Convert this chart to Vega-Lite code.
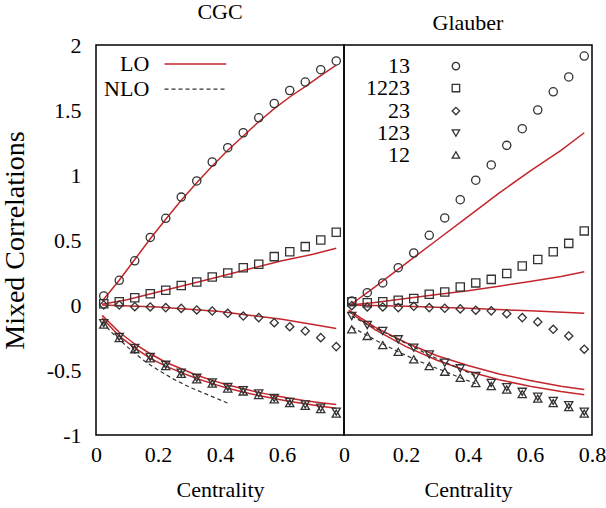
{
  "$schema": "https://vega.github.io/schema/vega-lite/v6.json",
  "background": "white",
  "padding": {"left": 0, "top": 0, "right": 5, "bottom": 5},
  "spacing": 0,
  "bounds": "flush",
  "config": {
    "view": {"stroke": "black", "strokeWidth": 1.5},
    "font": "Liberation Serif",
    "axis": {
      "grid": false, "domain": false, "ticks": false,
      "labelFont": "Liberation Serif", "labelFontSize": 22, "labelColor": "black",
      "titleFont": "Liberation Serif", "titleFontSize": 22, "titleFontWeight": "normal", "titleColor": "black",
      "labelFlush": false, "labelOverlap": false
    },
    "title": {"font": "Liberation Serif", "fontSize": 22, "fontWeight": "normal", "color": "black", "anchor": "middle", "frame": "group", "baseline": "alphabetic", "offset": 10}
  },
  "datasets": {
    "xt": [{"c": 0.2}, {"c": 0.4}, {"c": 0.6}],
    "yt": [{"v": -0.5}, {"v": 0}, {"v": 0.5}, {"v": 1}, {"v": 1.5}],
    "pts": [
      {"p":"CGC","s":"13","c":0.025,"v":0.07},{"p":"CGC","s":"13","c":0.075,"v":0.19},{"p":"CGC","s":"13","c":0.125,"v":0.34},{"p":"CGC","s":"13","c":0.175,"v":0.52},{"p":"CGC","s":"13","c":0.225,"v":0.667},{"p":"CGC","s":"13","c":0.275,"v":0.83},{"p":"CGC","s":"13","c":0.325,"v":0.954},{"p":"CGC","s":"13","c":0.375,"v":1.10},{"p":"CGC","s":"13","c":0.425,"v":1.21},{"p":"CGC","s":"13","c":0.475,"v":1.325},{"p":"CGC","s":"13","c":0.525,"v":1.44},{"p":"CGC","s":"13","c":0.575,"v":1.55},{"p":"CGC","s":"13","c":0.625,"v":1.65},{"p":"CGC","s":"13","c":0.675,"v":1.715},{"p":"CGC","s":"13","c":0.725,"v":1.81},{"p":"CGC","s":"13","c":0.775,"v":1.877},
      {"p":"CGC","s":"1223","c":0.025,"v":0.01},{"p":"CGC","s":"1223","c":0.075,"v":0.025},{"p":"CGC","s":"1223","c":0.125,"v":0.056},{"p":"CGC","s":"1223","c":0.175,"v":0.087},{"p":"CGC","s":"1223","c":0.225,"v":0.113},{"p":"CGC","s":"1223","c":0.275,"v":0.15},{"p":"CGC","s":"1223","c":0.325,"v":0.177},{"p":"CGC","s":"1223","c":0.375,"v":0.215},{"p":"CGC","s":"1223","c":0.425,"v":0.246},{"p":"CGC","s":"1223","c":0.475,"v":0.287},{"p":"CGC","s":"1223","c":0.525,"v":0.313},{"p":"CGC","s":"1223","c":0.575,"v":0.372},{"p":"CGC","s":"1223","c":0.625,"v":0.41},{"p":"CGC","s":"1223","c":0.675,"v":0.449},{"p":"CGC","s":"1223","c":0.725,"v":0.5},{"p":"CGC","s":"1223","c":0.775,"v":0.56},
      {"p":"CGC","s":"23","c":0.025,"v":0.0},{"p":"CGC","s":"23","c":0.075,"v":0.0},{"p":"CGC","s":"23","c":0.125,"v":-0.013},{"p":"CGC","s":"23","c":0.175,"v":-0.015},{"p":"CGC","s":"23","c":0.225,"v":-0.02},{"p":"CGC","s":"23","c":0.275,"v":-0.026},{"p":"CGC","s":"23","c":0.325,"v":-0.038},{"p":"CGC","s":"23","c":0.375,"v":-0.046},{"p":"CGC","s":"23","c":0.425,"v":-0.064},{"p":"CGC","s":"23","c":0.475,"v":-0.085},{"p":"CGC","s":"23","c":0.525,"v":-0.097},{"p":"CGC","s":"23","c":0.575,"v":-0.136},{"p":"CGC","s":"23","c":0.625,"v":-0.167},{"p":"CGC","s":"23","c":0.675,"v":-0.2},{"p":"CGC","s":"23","c":0.725,"v":-0.251},{"p":"CGC","s":"23","c":0.775,"v":-0.32},
      {"p":"CGC","s":"123","c":0.025,"v":-0.14},{"p":"CGC","s":"123","c":0.075,"v":-0.245},{"p":"CGC","s":"123","c":0.125,"v":-0.33},{"p":"CGC","s":"123","c":0.175,"v":-0.4},{"p":"CGC","s":"123","c":0.225,"v":-0.46},{"p":"CGC","s":"123","c":0.275,"v":-0.52},{"p":"CGC","s":"123","c":0.325,"v":-0.56},{"p":"CGC","s":"123","c":0.375,"v":-0.595},{"p":"CGC","s":"123","c":0.425,"v":-0.63},{"p":"CGC","s":"123","c":0.475,"v":-0.655},{"p":"CGC","s":"123","c":0.525,"v":-0.68},{"p":"CGC","s":"123","c":0.575,"v":-0.715},{"p":"CGC","s":"123","c":0.625,"v":-0.745},{"p":"CGC","s":"123","c":0.675,"v":-0.765},{"p":"CGC","s":"123","c":0.725,"v":-0.79},{"p":"CGC","s":"123","c":0.775,"v":-0.82},
      {"p":"CGC","s":"12","c":0.025,"v":-0.15},{"p":"CGC","s":"12","c":0.075,"v":-0.255},{"p":"CGC","s":"12","c":0.125,"v":-0.34},{"p":"CGC","s":"12","c":0.175,"v":-0.41},{"p":"CGC","s":"12","c":0.225,"v":-0.47},{"p":"CGC","s":"12","c":0.275,"v":-0.53},{"p":"CGC","s":"12","c":0.325,"v":-0.572},{"p":"CGC","s":"12","c":0.375,"v":-0.605},{"p":"CGC","s":"12","c":0.425,"v":-0.642},{"p":"CGC","s":"12","c":0.475,"v":-0.665},{"p":"CGC","s":"12","c":0.525,"v":-0.692},{"p":"CGC","s":"12","c":0.575,"v":-0.725},{"p":"CGC","s":"12","c":0.625,"v":-0.755},{"p":"CGC","s":"12","c":0.675,"v":-0.775},{"p":"CGC","s":"12","c":0.725,"v":-0.8},{"p":"CGC","s":"12","c":0.775,"v":-0.835},
      {"p":"Glauber","s":"13","c":0.025,"v":0.03},{"p":"Glauber","s":"13","c":0.075,"v":0.095},{"p":"Glauber","s":"13","c":0.125,"v":0.17},{"p":"Glauber","s":"13","c":0.175,"v":0.287},{"p":"Glauber","s":"13","c":0.225,"v":0.40},{"p":"Glauber","s":"13","c":0.275,"v":0.536},{"p":"Glauber","s":"13","c":0.325,"v":0.67},{"p":"Glauber","s":"13","c":0.375,"v":0.81},{"p":"Glauber","s":"13","c":0.425,"v":0.96},{"p":"Glauber","s":"13","c":0.475,"v":1.077},{"p":"Glauber","s":"13","c":0.525,"v":1.228},{"p":"Glauber","s":"13","c":0.575,"v":1.356},{"p":"Glauber","s":"13","c":0.625,"v":1.50},{"p":"Glauber","s":"13","c":0.675,"v":1.64},{"p":"Glauber","s":"13","c":0.725,"v":1.754},{"p":"Glauber","s":"13","c":0.775,"v":1.915},
      {"p":"Glauber","s":"1223","c":0.025,"v":0.025},{"p":"Glauber","s":"1223","c":0.075,"v":0.018},{"p":"Glauber","s":"1223","c":0.125,"v":0.025},{"p":"Glauber","s":"1223","c":0.175,"v":0.036},{"p":"Glauber","s":"1223","c":0.225,"v":0.05},{"p":"Glauber","s":"1223","c":0.275,"v":0.082},{"p":"Glauber","s":"1223","c":0.325,"v":0.10},{"p":"Glauber","s":"1223","c":0.375,"v":0.138},{"p":"Glauber","s":"1223","c":0.425,"v":0.17},{"p":"Glauber","s":"1223","c":0.475,"v":0.197},{"p":"Glauber","s":"1223","c":0.525,"v":0.243},{"p":"Glauber","s":"1223","c":0.575,"v":0.30},{"p":"Glauber","s":"1223","c":0.625,"v":0.35},{"p":"Glauber","s":"1223","c":0.675,"v":0.41},{"p":"Glauber","s":"1223","c":0.725,"v":0.474},{"p":"Glauber","s":"1223","c":0.775,"v":0.57},
      {"p":"Glauber","s":"23","c":0.025,"v":-0.005},{"p":"Glauber","s":"23","c":0.075,"v":-0.015},{"p":"Glauber","s":"23","c":0.125,"v":-0.015},{"p":"Glauber","s":"23","c":0.175,"v":-0.02},{"p":"Glauber","s":"23","c":0.225,"v":-0.01},{"p":"Glauber","s":"23","c":0.275,"v":-0.02},{"p":"Glauber","s":"23","c":0.325,"v":-0.025},{"p":"Glauber","s":"23","c":0.375,"v":-0.03},{"p":"Glauber","s":"23","c":0.425,"v":-0.04},{"p":"Glauber","s":"23","c":0.475,"v":-0.045},{"p":"Glauber","s":"23","c":0.525,"v":-0.067},{"p":"Glauber","s":"23","c":0.575,"v":-0.097},{"p":"Glauber","s":"23","c":0.625,"v":-0.13},{"p":"Glauber","s":"23","c":0.675,"v":-0.187},{"p":"Glauber","s":"23","c":0.725,"v":-0.238},{"p":"Glauber","s":"23","c":0.775,"v":-0.34},
      {"p":"Glauber","s":"123","c":0.025,"v":-0.085},{"p":"Glauber","s":"123","c":0.075,"v":-0.154},{"p":"Glauber","s":"123","c":0.125,"v":-0.2},{"p":"Glauber","s":"123","c":0.175,"v":-0.264},{"p":"Glauber","s":"123","c":0.225,"v":-0.328},{"p":"Glauber","s":"123","c":0.275,"v":-0.38},{"p":"Glauber","s":"123","c":0.325,"v":-0.444},{"p":"Glauber","s":"123","c":0.375,"v":-0.487},{"p":"Glauber","s":"123","c":0.425,"v":-0.546},{"p":"Glauber","s":"123","c":0.475,"v":-0.6},{"p":"Glauber","s":"123","c":0.525,"v":-0.632},{"p":"Glauber","s":"123","c":0.575,"v":-0.668},{"p":"Glauber","s":"123","c":0.625,"v":-0.706},{"p":"Glauber","s":"123","c":0.675,"v":-0.738},{"p":"Glauber","s":"123","c":0.725,"v":-0.77},{"p":"Glauber","s":"123","c":0.775,"v":-0.82},
      {"p":"Glauber","s":"12","c":0.025,"v":-0.187},{"p":"Glauber","s":"12","c":0.075,"v":-0.238},{"p":"Glauber","s":"12","c":0.125,"v":-0.308},{"p":"Glauber","s":"12","c":0.175,"v":-0.36},{"p":"Glauber","s":"12","c":0.225,"v":-0.418},{"p":"Glauber","s":"12","c":0.275,"v":-0.47},{"p":"Glauber","s":"12","c":0.325,"v":-0.513},{"p":"Glauber","s":"12","c":0.375,"v":-0.56},{"p":"Glauber","s":"12","c":0.425,"v":-0.6},{"p":"Glauber","s":"12","c":0.475,"v":-0.623},{"p":"Glauber","s":"12","c":0.525,"v":-0.65},{"p":"Glauber","s":"12","c":0.575,"v":-0.685},{"p":"Glauber","s":"12","c":0.625,"v":-0.72},{"p":"Glauber","s":"12","c":0.675,"v":-0.755},{"p":"Glauber","s":"12","c":0.725,"v":-0.785},{"p":"Glauber","s":"12","c":0.775,"v":-0.835}
    ],
    "lo": [
      {"p":"CGC","s":"13","c":0.02,"v":0.03},{"p":"CGC","s":"13","c":0.075,"v":0.19},{"p":"CGC","s":"13","c":0.125,"v":0.35},{"p":"CGC","s":"13","c":0.175,"v":0.51},{"p":"CGC","s":"13","c":0.225,"v":0.66},{"p":"CGC","s":"13","c":0.275,"v":0.805},{"p":"CGC","s":"13","c":0.325,"v":0.94},{"p":"CGC","s":"13","c":0.375,"v":1.07},{"p":"CGC","s":"13","c":0.425,"v":1.19},{"p":"CGC","s":"13","c":0.475,"v":1.3},{"p":"CGC","s":"13","c":0.525,"v":1.41},{"p":"CGC","s":"13","c":0.575,"v":1.51},{"p":"CGC","s":"13","c":0.625,"v":1.6},{"p":"CGC","s":"13","c":0.675,"v":1.68},{"p":"CGC","s":"13","c":0.725,"v":1.765},{"p":"CGC","s":"13","c":0.775,"v":1.845},
      {"p":"CGC","s":"1223","c":0.02,"v":0.005},{"p":"CGC","s":"1223","c":0.1,"v":0.04},{"p":"CGC","s":"1223","c":0.2,"v":0.1},{"p":"CGC","s":"1223","c":0.3,"v":0.16},{"p":"CGC","s":"1223","c":0.4,"v":0.22},{"p":"CGC","s":"1223","c":0.5,"v":0.28},{"p":"CGC","s":"1223","c":0.6,"v":0.34},{"p":"CGC","s":"1223","c":0.7,"v":0.39},{"p":"CGC","s":"1223","c":0.775,"v":0.436},
      {"p":"CGC","s":"23","c":0.02,"v":0.0},{"p":"CGC","s":"23","c":0.2,"v":-0.015},{"p":"CGC","s":"23","c":0.4,"v":-0.05},{"p":"CGC","s":"23","c":0.5,"v":-0.08},{"p":"CGC","s":"23","c":0.6,"v":-0.11},{"p":"CGC","s":"23","c":0.7,"v":-0.15},{"p":"CGC","s":"23","c":0.775,"v":-0.18},
      {"p":"CGC","s":"123","c":0.02,"v":-0.08},{"p":"CGC","s":"123","c":0.075,"v":-0.21},{"p":"CGC","s":"123","c":0.125,"v":-0.3},{"p":"CGC","s":"123","c":0.175,"v":-0.375},{"p":"CGC","s":"123","c":0.225,"v":-0.44},{"p":"CGC","s":"123","c":0.275,"v":-0.49},{"p":"CGC","s":"123","c":0.325,"v":-0.54},{"p":"CGC","s":"123","c":0.375,"v":-0.58},{"p":"CGC","s":"123","c":0.425,"v":-0.615},{"p":"CGC","s":"123","c":0.475,"v":-0.645},{"p":"CGC","s":"123","c":0.525,"v":-0.672},{"p":"CGC","s":"123","c":0.575,"v":-0.697},{"p":"CGC","s":"123","c":0.625,"v":-0.718},{"p":"CGC","s":"123","c":0.675,"v":-0.737},{"p":"CGC","s":"123","c":0.725,"v":-0.752},{"p":"CGC","s":"123","c":0.775,"v":-0.765},
      {"p":"CGC","s":"12","c":0.02,"v":-0.1},{"p":"CGC","s":"12","c":0.075,"v":-0.24},{"p":"CGC","s":"12","c":0.125,"v":-0.33},{"p":"CGC","s":"12","c":0.175,"v":-0.41},{"p":"CGC","s":"12","c":0.225,"v":-0.47},{"p":"CGC","s":"12","c":0.275,"v":-0.52},{"p":"CGC","s":"12","c":0.325,"v":-0.565},{"p":"CGC","s":"12","c":0.375,"v":-0.605},{"p":"CGC","s":"12","c":0.425,"v":-0.64},{"p":"CGC","s":"12","c":0.475,"v":-0.67},{"p":"CGC","s":"12","c":0.525,"v":-0.697},{"p":"CGC","s":"12","c":0.575,"v":-0.72},{"p":"CGC","s":"12","c":0.625,"v":-0.742},{"p":"CGC","s":"12","c":0.675,"v":-0.76},{"p":"CGC","s":"12","c":0.725,"v":-0.778},{"p":"CGC","s":"12","c":0.775,"v":-0.795},
      {"p":"Glauber","s":"13","c":0.02,"v":0.0},{"p":"Glauber","s":"13","c":0.1,"v":0.14},{"p":"Glauber","s":"13","c":0.2,"v":0.32},{"p":"Glauber","s":"13","c":0.3,"v":0.5},{"p":"Glauber","s":"13","c":0.4,"v":0.68},{"p":"Glauber","s":"13","c":0.5,"v":0.86},{"p":"Glauber","s":"13","c":0.6,"v":1.03},{"p":"Glauber","s":"13","c":0.7,"v":1.19},{"p":"Glauber","s":"13","c":0.775,"v":1.325},
      {"p":"Glauber","s":"1223","c":0.02,"v":0.0},{"p":"Glauber","s":"1223","c":0.1,"v":0.02},{"p":"Glauber","s":"1223","c":0.2,"v":0.05},{"p":"Glauber","s":"1223","c":0.3,"v":0.08},{"p":"Glauber","s":"1223","c":0.4,"v":0.11},{"p":"Glauber","s":"1223","c":0.5,"v":0.145},{"p":"Glauber","s":"1223","c":0.6,"v":0.18},{"p":"Glauber","s":"1223","c":0.7,"v":0.22},{"p":"Glauber","s":"1223","c":0.775,"v":0.255},
      {"p":"Glauber","s":"23","c":0.02,"v":0.0},{"p":"Glauber","s":"23","c":0.2,"v":-0.01},{"p":"Glauber","s":"23","c":0.4,"v":-0.025},{"p":"Glauber","s":"23","c":0.6,"v":-0.045},{"p":"Glauber","s":"23","c":0.775,"v":-0.064},
      {"p":"Glauber","s":"123","c":0.015,"v":-0.04},{"p":"Glauber","s":"123","c":0.1,"v":-0.17},{"p":"Glauber","s":"123","c":0.2,"v":-0.29},{"p":"Glauber","s":"123","c":0.3,"v":-0.39},{"p":"Glauber","s":"123","c":0.4,"v":-0.465},{"p":"Glauber","s":"123","c":0.5,"v":-0.53},{"p":"Glauber","s":"123","c":0.6,"v":-0.58},{"p":"Glauber","s":"123","c":0.7,"v":-0.625},{"p":"Glauber","s":"123","c":0.775,"v":-0.65},
      {"p":"Glauber","s":"12","c":0.015,"v":-0.05},{"p":"Glauber","s":"12","c":0.1,"v":-0.19},{"p":"Glauber","s":"12","c":0.2,"v":-0.32},{"p":"Glauber","s":"12","c":0.3,"v":-0.425},{"p":"Glauber","s":"12","c":0.4,"v":-0.51},{"p":"Glauber","s":"12","c":0.5,"v":-0.575},{"p":"Glauber","s":"12","c":0.6,"v":-0.625},{"p":"Glauber","s":"12","c":0.7,"v":-0.665},{"p":"Glauber","s":"12","c":0.775,"v":-0.69}
    ],
    "nlo": [
      {"p":"CGC","s":"a","c":0.02,"v":-0.13},{"p":"CGC","s":"a","c":0.05,"v":-0.21},{"p":"CGC","s":"a","c":0.1,"v":-0.32},{"p":"CGC","s":"a","c":0.15,"v":-0.42},{"p":"CGC","s":"a","c":0.2,"v":-0.5},{"p":"CGC","s":"a","c":0.25,"v":-0.57},{"p":"CGC","s":"a","c":0.3,"v":-0.63},{"p":"CGC","s":"a","c":0.35,"v":-0.68},{"p":"CGC","s":"a","c":0.4,"v":-0.73},{"p":"CGC","s":"a","c":0.425,"v":-0.755},
      {"p":"Glauber","s":"123","c":0.025,"v":-0.085},{"p":"Glauber","s":"123","c":0.075,"v":-0.15},{"p":"Glauber","s":"123","c":0.125,"v":-0.205},{"p":"Glauber","s":"123","c":0.175,"v":-0.265},{"p":"Glauber","s":"123","c":0.225,"v":-0.325},{"p":"Glauber","s":"123","c":0.275,"v":-0.385},{"p":"Glauber","s":"123","c":0.325,"v":-0.44},{"p":"Glauber","s":"123","c":0.375,"v":-0.49},{"p":"Glauber","s":"123","c":0.425,"v":-0.545},
      {"p":"Glauber","s":"12","c":0.025,"v":-0.17},{"p":"Glauber","s":"12","c":0.075,"v":-0.235},{"p":"Glauber","s":"12","c":0.125,"v":-0.3},{"p":"Glauber","s":"12","c":0.175,"v":-0.36},{"p":"Glauber","s":"12","c":0.225,"v":-0.415},{"p":"Glauber","s":"12","c":0.275,"v":-0.465},{"p":"Glauber","s":"12","c":0.325,"v":-0.51},{"p":"Glauber","s":"12","c":0.375,"v":-0.56},{"p":"Glauber","s":"12","c":0.425,"v":-0.605}
    ],
    "keytext": [
      {"p":"CGC","label":"LO","c":0.172,"v":1.854},
      {"p":"CGC","label":"NLO","c":0.172,"v":1.66},
      {"p":"Glauber","label":"13","c":0.213,"v":1.838},
      {"p":"Glauber","label":"1223","c":0.213,"v":1.669},
      {"p":"Glauber","label":"23","c":0.213,"v":1.492},
      {"p":"Glauber","label":"123","c":0.213,"v":1.323},
      {"p":"Glauber","label":"12","c":0.213,"v":1.154}
    ],
    "keysym": [
      {"s":"13","c":0.361,"v":1.838},
      {"s":"1223","c":0.361,"v":1.669},
      {"s":"23","c":0.361,"v":1.492},
      {"s":"123","c":0.361,"v":1.323},
      {"s":"12","c":0.361,"v":1.154}
    ],
    "keyline": [
      {"s":"LO","c":0.221,"v":1.854},{"s":"LO","c":0.42,"v":1.854},
      {"s":"NLO","c":0.221,"v":1.66},{"s":"NLO","c":0.42,"v":1.66}
    ]
  },
  "hconcat": [
    {
      "title": "CGC",
      "width": 248, "height": 390,
      "encoding": {
        "x": {"field": "c", "type": "quantitative", "scale": {"domain": [0, 0.8], "nice": false, "zero": false}, "axis": null},
        "y": {"field": "v", "type": "quantitative", "scale": {"domain": [-1, 2], "nice": false, "zero": false}, "axis": null}
      },
      "layer": [
        {
          "data": {"name": "pts"}, "transform": [{"filter": "datum.p === 'CGC'"}],
          "mark": {"type": "point", "opacity": 0},
          "encoding": {
            "x": {"field": "c", "type": "quantitative", "scale": {"domain": [0, 0.8], "nice": false, "zero": false},
              "axis": {"orient": "bottom", "values": [0, 0.2, 0.4, 0.6], "title": "Centrality", "labelPadding": 9, "titlePadding": 14, "labelExpr": "replace(format(datum.value, '~g'), '\u2212', '-')"}},
            "y": {"field": "v", "type": "quantitative", "scale": {"domain": [-1, 2], "nice": false, "zero": false},
              "axis": {"orient": "left", "values": [-1, -0.5, 0, 0.5, 1, 1.5, 2], "title": "Mixed Correlations", "titleFontSize": 28, "labelPadding": 15, "titlePadding": 17, "labelExpr": "replace(format(datum.value, '~g'), '\u2212', '-')"}}
          }
        },
        {"data": {"name": "xt"}, "mark": {"type": "tick", "orient": "vertical", "size": 8, "thickness": 1.5, "color": "black", "opacity": 1, "yOffset": -4}, "encoding": {"y": {"datum": -1}}},
        {"data": {"name": "xt"}, "mark": {"type": "tick", "orient": "vertical", "size": 8, "thickness": 1.5, "color": "black", "opacity": 1, "yOffset": 4}, "encoding": {"y": {"datum": 2}}},
        {"data": {"name": "yt"}, "mark": {"type": "tick", "orient": "horizontal", "size": 8, "thickness": 1.5, "color": "black", "opacity": 1, "xOffset": 4}, "encoding": {"x": {"datum": 0}}},
        {"data": {"name": "yt"}, "mark": {"type": "tick", "orient": "horizontal", "size": 8, "thickness": 1.5, "color": "black", "opacity": 1, "xOffset": -4}, "encoding": {"x": {"datum": 0.8}}},
        {
          "data": {"name": "lo"}, "transform": [{"filter": "datum.p === 'CGC'"}],
          "mark": {"type": "line", "color": "#c4262c", "strokeWidth": 1.5},
          "encoding": {"detail": {"field": "s"}}
        },
        {
          "data": {"name": "nlo"}, "transform": [{"filter": "datum.p === 'CGC'"}],
          "mark": {"type": "line", "color": "#333333", "strokeWidth": 1.2, "strokeDash": [4, 3]},
          "encoding": {"detail": {"field": "s"}}
        },
        {
          "data": {"name": "pts"}, "transform": [{"filter": "datum.p === 'CGC'"}],
          "mark": {"type": "point", "filled": false, "color": "#333333", "strokeWidth": 1.3, "size": 68, "opacity": 1},
          "encoding": {
            "shape": {"field": "s", "type": "nominal", "scale": {"domain": ["13", "1223", "23", "123", "12"], "range": ["circle", "square", "diamond", "triangle-down", "triangle-up"]}, "legend": null}
          }
        },
        {
          "data": {"name": "keytext"}, "transform": [{"filter": "datum.p === 'CGC'"}],
          "mark": {"type": "text", "align": "right", "baseline": "middle", "font": "Liberation Serif", "fontSize": 22, "color": "black"},
          "encoding": {"text": {"field": "label"}}
        },
        {
          "data": {"name": "keyline"}, "transform": [{"filter": "datum.s === 'LO'"}],
          "mark": {"type": "line", "color": "#c4262c", "strokeWidth": 1.5},
          "encoding": {}
        },
        {
          "data": {"name": "keyline"}, "transform": [{"filter": "datum.s === 'NLO'"}],
          "mark": {"type": "line", "color": "#333333", "strokeWidth": 1.2, "strokeDash": [4, 3]},
          "encoding": {}
        }
      ],
      "resolve": {"axis": {"x": "independent", "y": "independent"}}
    },
    {
      "title": "Glauber",
      "width": 248, "height": 390,
      "encoding": {
        "x": {"field": "c", "type": "quantitative", "scale": {"domain": [0, 0.8], "nice": false, "zero": false}, "axis": null},
        "y": {"field": "v", "type": "quantitative", "scale": {"domain": [-1, 2], "nice": false, "zero": false}, "axis": null}
      },
      "layer": [
        {
          "data": {"name": "pts"}, "transform": [{"filter": "datum.p === 'Glauber'"}],
          "mark": {"type": "point", "opacity": 0},
          "encoding": {
            "x": {"field": "c", "type": "quantitative", "scale": {"domain": [0, 0.8], "nice": false, "zero": false},
              "axis": {"orient": "bottom", "values": [0, 0.2, 0.4, 0.6, 0.8], "title": "Centrality", "labelPadding": 9, "titlePadding": 14, "labelExpr": "replace(format(datum.value, '~g'), '\u2212', '-')"}}
          }
        },
        {"data": {"name": "xt"}, "mark": {"type": "tick", "orient": "vertical", "size": 8, "thickness": 1.5, "color": "black", "opacity": 1, "yOffset": -4}, "encoding": {"y": {"datum": -1}}},
        {"data": {"name": "xt"}, "mark": {"type": "tick", "orient": "vertical", "size": 8, "thickness": 1.5, "color": "black", "opacity": 1, "yOffset": 4}, "encoding": {"y": {"datum": 2}}},
        {"data": {"name": "yt"}, "mark": {"type": "tick", "orient": "horizontal", "size": 8, "thickness": 1.5, "color": "black", "opacity": 1, "xOffset": 4}, "encoding": {"x": {"datum": 0}}},
        {"data": {"name": "yt"}, "mark": {"type": "tick", "orient": "horizontal", "size": 8, "thickness": 1.5, "color": "black", "opacity": 1, "xOffset": -4}, "encoding": {"x": {"datum": 0.8}}},
        {
          "data": {"name": "lo"}, "transform": [{"filter": "datum.p === 'Glauber'"}],
          "mark": {"type": "line", "color": "#c4262c", "strokeWidth": 1.5},
          "encoding": {"detail": {"field": "s"}}
        },
        {
          "data": {"name": "nlo"}, "transform": [{"filter": "datum.p === 'Glauber'"}],
          "mark": {"type": "line", "color": "#333333", "strokeWidth": 1.2, "strokeDash": [4, 3]},
          "encoding": {"detail": {"field": "s"}}
        },
        {
          "data": {"name": "pts"}, "transform": [{"filter": "datum.p === 'Glauber'"}],
          "mark": {"type": "point", "filled": false, "color": "#333333", "strokeWidth": 1.3, "size": 68, "opacity": 1},
          "encoding": {
            "shape": {"field": "s", "type": "nominal", "scale": {"domain": ["13", "1223", "23", "123", "12"], "range": ["circle", "square", "diamond", "triangle-down", "triangle-up"]}, "legend": null}
          }
        },
        {
          "data": {"name": "keytext"}, "transform": [{"filter": "datum.p === 'Glauber'"}],
          "mark": {"type": "text", "align": "right", "baseline": "middle", "font": "Liberation Serif", "fontSize": 22, "color": "black"},
          "encoding": {"text": {"field": "label"}}
        },
        {
          "data": {"name": "keysym"},
          "mark": {"type": "point", "filled": false, "color": "#333333", "strokeWidth": 1.3, "size": 55, "opacity": 1},
          "encoding": {
            "shape": {"field": "s", "type": "nominal", "scale": {"domain": ["13", "1223", "23", "123", "12"], "range": ["circle", "square", "diamond", "triangle-down", "triangle-up"]}, "legend": null}
          }
        }
      ],
      "resolve": {"axis": {"x": "independent", "y": "independent"}}
    }
  ]
}
